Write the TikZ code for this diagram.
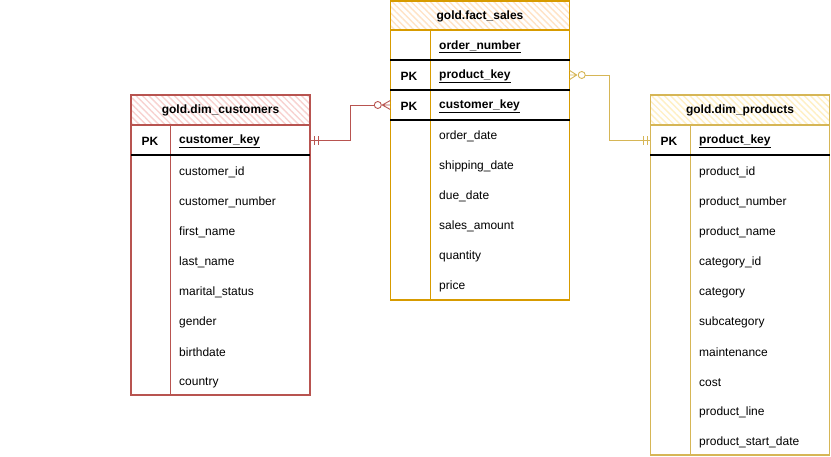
\documentclass[tikz,border=0pt]{standalone}
\usepackage{fontspec}
\setmainfont{Liberation Sans}
\usetikzlibrary{patterns.meta}
\definecolor{redS}{HTML}{B85450}
\definecolor{redF}{HTML}{F8D2D0}
\definecolor{orgS}{HTML}{D79B00}
\definecolor{orgF}{HTML}{FFE3C6}
\definecolor{yelS}{HTML}{D6B656}
\definecolor{yelF}{HTML}{FFF0C4}
\begin{document}
\begin{tikzpicture}[x=1pt,y=-1pt,
  font=\fontsize{12}{14}\selectfont,
  tbl/.style={draw=#1, line width=1.1pt, inner sep=0, minimum width=179pt},
  hdr/.style={draw=#1, line width=1.1pt, inner sep=0, minimum width=179pt, minimum height=30pt},
  hatch/.style={pattern={Lines[angle=-45, distance=4.5pt, line width=1.4pt]}, pattern color=#1},
  ttl/.style={inner sep=0, font=\fontsize{12}{14}\selectfont\bfseries},
  rowbox/.style={inner sep=0, minimum width=179pt, minimum height=30pt},
  field/.style={anchor=west, inner sep=0, yshift=-1.5pt},
  pk/.style={inner sep=0, yshift=-1pt, font=\fontsize{12}{14}\selectfont\bfseries},
  sep/.style={black, line width=1.3pt},
  rel/.style={line width=0.9pt}]
\useasboundingbox (0,0) rectangle (831,456);

% ===== gold.dim_customers =====
\node[tbl=redS, minimum height=300pt, fill=white] (cust) at (220.5,245) {};
\node[hdr=redS, hatch=redF] (custh) at (220.5,110) {};
\node[ttl] (custt) at (220.5,110.5) {gold.dim\_customers};
\node[rowbox] (cpk) at (220.5,140) {};
\draw[redS, line width=1pt] (170,125) -- (170,395);
\draw[sep] (131,155) -- (310,155);
\node[pk] (cpkl) at (150,140) {PK};
\node[field] (ck) at (179,140) {\textbf{\underline{customer\_key}}};
\node[field] (c1) at (179,171) {customer\_id};
\node[field] (c2) at (179,201) {customer\_number};
\node[field] (c3) at (179,231) {first\_name};
\node[field] (c4) at (179,261) {last\_name};
\node[field] (c5) at (179,291) {marital\_status};
\node[field] (c6) at (179,321) {gender};
\node[field] (c7) at (179,351) {birthdate};
\node[field] (c8) at (179,381) {country};

% ===== gold.fact_sales =====
\node[tbl=orgS, minimum height=299pt, fill=white] (fact) at (480,150.5) {};
\node[hdr=orgS, minimum height=29pt, hatch=orgF] (facth) at (480,15.5) {};
\node[ttl] (factt) at (480,16) {gold.fact\_sales};
\node[rowbox] (fon) at (480,45) {};
\node[rowbox] (fpk) at (480,75) {};
\node[rowbox] (fck) at (480,105) {};
\draw[orgS, line width=1pt] (430,30) -- (430,300);
\draw[sep] (390,60) -- (570,60);
\draw[sep] (390,90) -- (570,90);
\draw[sep] (390,120) -- (570,120);
\node[pk] (fpkl1) at (409,75) {PK};
\node[pk] (fpkl2) at (409,105) {PK};
\node[field] (f0) at (439,45) {\textbf{\underline{order\_number}}};
\node[field] (f1) at (439,75) {\textbf{\underline{product\_key}}};
\node[field] (f2) at (439,105) {\textbf{\underline{customer\_key}}};
\node[field] (f3) at (439,135) {order\_date};
\node[field] (f4) at (439,165) {shipping\_date};
\node[field] (f5) at (439,195) {due\_date};
\node[field] (f6) at (439,225) {sales\_amount};
\node[field] (f7) at (439,255) {quantity};
\node[field] (f8) at (439,285) {price};

% ===== gold.dim_products =====
\node[tbl=yelS, minimum height=360pt, fill=white] (prod) at (740,275) {};
\node[hdr=yelS, hatch=yelF] (prodh) at (740,110) {};
\node[ttl] (prodt) at (740,110.5) {gold.dim\_products};
\node[rowbox] (ppk) at (740,140) {};
\draw[yelS, line width=1pt] (690,125) -- (690,455);
\draw[sep] (650,155) -- (830,155);
\node[pk] (ppkl) at (669,140) {PK};
\node[field] (pk) at (699,140) {\textbf{\underline{product\_key}}};
\node[field] (p1) at (699,171) {product\_id};
\node[field] (p2) at (699,201) {product\_number};
\node[field] (p3) at (699,231) {product\_name};
\node[field] (p4) at (699,261) {category\_id};
\node[field] (p5) at (699,291) {category};
\node[field] (p6) at (699,321) {subcategory};
\node[field] (p7) at (699,351) {maintenance};
\node[field] (p8) at (699,381) {cost};
\node[field] (p9) at (699,411) {product\_line};
\node[field] (p10) at (699,441) {product\_start\_date};

% ===== relation customers -> fact =====
\draw[rel, redS] (cpk.east) -- ++(40,0) |- ([xshift=-16pt]fck.west);
\draw[rel, redS] ([xshift=4pt,yshift=-4.5pt]cpk.east) -- ([xshift=4pt,yshift=4.5pt]cpk.east);
\draw[rel, redS] ([xshift=8pt,yshift=-4.5pt]cpk.east) -- ([xshift=8pt,yshift=4.5pt]cpk.east);
\draw[rel, redS] ([xshift=-12.5pt]fck.west) circle (3.5pt);
\draw[rel, redS] ([xshift=-8pt]fck.west) -- ([yshift=4.5pt]fck.west)
                 ([xshift=-8pt]fck.west) -- (fck.west)
                 ([xshift=-8pt]fck.west) -- ([yshift=-4.5pt]fck.west);

% ===== relation fact -> products =====
\draw[rel, yelS] ([xshift=15.5pt]fpk.east) -| ([xshift=40pt]fpk.east) |- (ppk.west);
\draw[rel, yelS] ([xshift=12pt]fpk.east) circle (3.5pt);
\draw[rel, yelS] ([xshift=7pt]fpk.east) -- ([yshift=4.5pt]fpk.east)
                 ([xshift=7pt]fpk.east) -- (fpk.east)
                 ([xshift=7pt]fpk.east) -- ([yshift=-4.5pt]fpk.east);
\draw[rel, yelS] ([xshift=-7pt,yshift=-4.5pt]ppk.west) -- ([xshift=-7pt,yshift=4.5pt]ppk.west);
\draw[rel, yelS] ([xshift=-3pt,yshift=-4.5pt]ppk.west) -- ([xshift=-3pt,yshift=4.5pt]ppk.west);
\end{tikzpicture}
\end{document}
